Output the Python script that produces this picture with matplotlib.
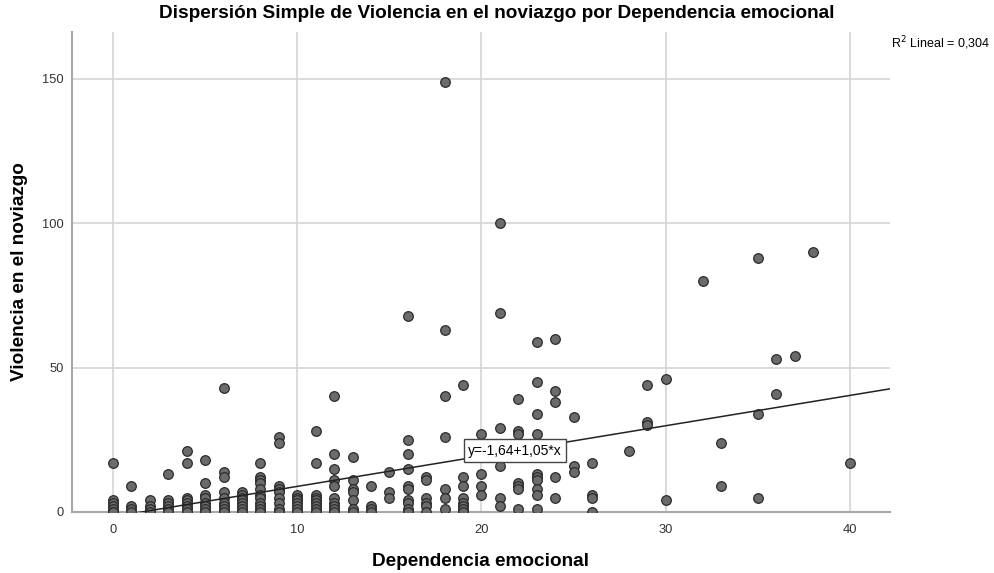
import matplotlib
matplotlib.use("Agg")
import matplotlib.pyplot as plt
import numpy as np

plt.rcParams['font.family'] = ['Liberation Sans', 'DejaVu Sans']

# Dependencia emocional (x) -> valores de Violencia en el noviazgo (y)
columnas = {
    0: [17, 4, 3, 2, 1, 0, 0],
    1: [9, 2, 1, 0],
    2: [4, 2, 1, 0],
    3: [13, 4, 3, 2, 1, 0],
    4: [21, 17, 5, 4, 3, 2, 1, 0],
    5: [18, 10, 6, 5, 3, 2, 1, 0],
    6: [43, 14, 12, 7, 5, 3, 2, 1, 0],
    7: [7, 6, 5, 4, 3, 2, 1, 0],
    8: [17, 12, 11, 10, 8, 6, 5, 3, 2, 1, 0],
    9: [26, 24, 9, 8, 7, 5, 3, 1, 0],
    10: [6, 5, 4, 3, 2, 1, 0],
    11: [28, 17, 6, 5, 4, 3, 2, 1, 0],
    12: [40, 20, 15, 11, 9, 5, 3, 2, 1, 0],
    13: [19, 11, 8, 7, 4, 1, 0],
    14: [9, 2, 1, 0],
    15: [14, 7, 5],
    16: [68, 25, 20, 15, 9, 8, 4, 3, 1, 0],
    17: [12, 11, 5, 3, 2, 0],
    18: [149, 63, 40, 26, 8, 5, 1],
    19: [44, 12, 9, 5, 3, 2, 1, 0],
    20: [27, 13, 9, 6],
    21: [100, 69, 29, 16, 5, 2],
    22: [39, 28, 27, 10, 9, 8, 1],
    23: [59, 45, 34, 27, 13, 12, 11, 8, 6, 1],
    24: [60, 42, 38, 12, 5],
    25: [33, 16, 14],
    26: [17, 6, 5, 0],
    28: [21],
    29: [44, 31, 30],
    30: [46, 4],
    32: [80],
    33: [24, 9],
    35: [88, 34, 5],
    36: [53, 41],
    37: [54],
    38: [90],
    40: [17],
}

dependencia = [k for k, vals in columnas.items() for _ in vals]
violencia = [v for vals in columnas.values() for v in vals]

intercepto = -1.64
pendiente = 1.05
r2 = "0,304"

fig = plt.figure(figsize=(9.94, 5.73), dpi=100)
ax = fig.add_axes([0.0724, 0.1065, 0.8230, 0.8376])

ax.set_xlim(-2.23, 42.18)
ax.set_ylim(0, 166.2)

ax.set_xticks([0, 10, 20, 30, 40])
ax.set_yticks([0, 50, 100, 150])
ax.grid(True, color="#d4d4d4", linewidth=1.2)
ax.set_axisbelow(True)

for s in ["top", "right"]:
    ax.spines[s].set_visible(False)
for s in ["left", "bottom"]:
    ax.spines[s].set_color("#a8a8a8")
    ax.spines[s].set_linewidth(1.5)

ax.tick_params(length=0, labelsize=9.3, colors="#333333")
ax.tick_params(axis="x", pad=9)
ax.tick_params(axis="y", pad=6)

ax.scatter(dependencia, violencia, s=48, facecolor="#6b6b6b",
           edgecolor="#2b2b2b", linewidth=0.9, zorder=3)

xs = np.array([-2.23, 42.18])
ax.plot(xs, intercepto + pendiente * xs, color="#222222", linewidth=1.1, zorder=4)

xl = 21.8
ax.text(xl, intercepto + pendiente * xl, "y=-1,64+1,05*x", fontsize=10,
        ha="center", va="center", zorder=5,
        bbox=dict(boxstyle="square,pad=0.3", facecolor="white",
                  edgecolor="#444444", linewidth=1))

fig.text(0.5, 0.977, "Dispersión Simple de Violencia en el noviazgo por Dependencia emocional",
         fontsize=13.7, fontweight="bold", ha="center", va="center")
ax.set_xlabel("Dependencia emocional", fontsize=13.7, fontweight="bold", labelpad=12)
ax.set_ylabel("Violencia en el noviazgo", fontsize=13.7, fontweight="bold", labelpad=10)

fig.text(0.896, 0.925, "R$^2$ Lineal = " + r2, fontsize=9, ha="left", va="center")

fig.savefig("out.png", dpi=100)
